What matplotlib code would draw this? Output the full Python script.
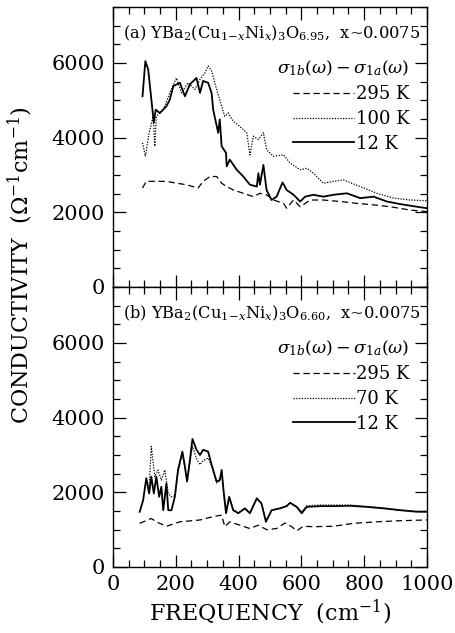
import numpy as np
import matplotlib.pyplot as plt
from matplotlib.ticker import MultipleLocator

plt.rcParams['font.family'] = 'DejaVu Serif'
plt.rcParams['mathtext.fontset'] = 'dejavuserif'

# (a) O6.95 sample: sigma_1b - sigma_1a (1/Ohm cm) vs frequency (cm^-1)
a_12K_w = [94, 103, 112, 130, 136, 149, 170, 181, 192, 213, 229, 245, 266, 277, 287,
           303, 314, 319, 335, 340, 346, 360, 362, 372, 394, 415, 436, 458, 463, 468,
           479, 489, 505, 521, 540, 553, 575, 596, 612, 638, 670, 702, 745, 787, 830,
           872, 915, 968, 1000]
a_12K_s = [5110, 6050, 5830, 4400, 4750, 4660, 4840, 5020, 5380, 5470, 5110, 5430, 5600, 5200, 5520,
           5470, 5200, 4750, 4130, 4490, 3770, 3590, 3230, 3410, 3140, 2960, 2740, 2690, 3050, 2740,
           3270, 2600, 2330, 2420, 2800, 2600, 2470, 2290, 2420, 2470, 2420, 2470, 2510, 2380, 2420,
           2290, 2220, 2150, 2110]

a_100K_w = [94, 103, 115, 128, 133, 138, 160, 181, 202, 218, 239, 261, 277, 293, 303,
            314, 330, 346, 356, 367, 383, 404, 426, 436, 447, 463, 479, 489, 511, 543,
            564, 596, 617, 638, 670, 702, 734, 787, 840, 894, 947, 1000]
a_100K_s = [3860, 3500, 4130, 4570, 3770, 4570, 4750, 5200, 5600, 5200, 5470, 5290, 5560, 5740, 5920,
            5790, 5290, 4840, 4570, 4660, 4440, 4300, 4130, 3540, 4040, 3950, 4130, 3680, 3500, 3540,
            3320, 3140, 3180, 3050, 2780, 2830, 2870, 2690, 2510, 2380, 2330, 2310]

a_295K_w = [94, 106, 138, 170, 202, 234, 271, 287, 309, 330, 346, 362, 383, 415, 447,
            468, 489, 511, 543, 553, 575, 596, 628, 670, 723, 777, 830, 883, 947, 1000]
a_295K_s = [2650, 2830, 2830, 2830, 2780, 2740, 2650, 2830, 2960, 2960, 2780, 2690, 2600, 2510, 2420,
            2510, 2470, 2330, 2240, 2110, 2330, 2150, 2330, 2330, 2290, 2240, 2200, 2150, 2060, 2020]

# (b) O6.60 sample
b_12K_w = [85, 96, 106, 115, 122, 130, 138, 147, 154, 160, 170, 176, 186, 197, 207,
           221, 229, 236, 245, 253, 266, 277, 287, 303, 314, 330, 340, 346, 353, 360,
           370, 383, 399, 420, 436, 458, 473, 487, 505, 532, 553, 564, 585, 601, 617,
           660, 702, 755, 809, 862, 915, 968, 1000]
b_12K_s = [1480, 1790, 2380, 1970, 2420, 1970, 2420, 1880, 2150, 1520, 2240, 1520, 1520, 1880, 2600,
           3090, 2690, 2290, 2870, 3430, 3140, 3000, 3140, 3090, 2740, 2290, 2330, 2600, 1970, 1440,
           1880, 1520, 1440, 1570, 1440, 1840, 1700, 1210, 1520, 1570, 1630, 1720, 1610, 1440, 1610,
           1630, 1630, 1640, 1610, 1570, 1520, 1480, 1480]

b_70K_w = [115, 122, 133, 143, 154, 165, 176, 186, 197, 207, 221, 229, 236, 245, 253,
           266, 277, 287, 303, 314, 330, 340, 346, 353, 360, 370, 383, 399, 420, 436,
           458, 473, 487, 505, 532, 553, 564, 585, 601, 617, 660, 702, 755, 809, 862,
           915, 968, 1000]
b_70K_s = [2100, 3230, 2420, 2600, 2330, 2600, 1970, 1880, 1900, 2550, 3050, 2650, 2300, 2800, 3230,
           2900, 2740, 2850, 2920, 2700, 2250, 2300, 2550, 1950, 1500, 1870, 1540, 1450, 1570, 1460,
           1820, 1710, 1230, 1520, 1580, 1640, 1720, 1620, 1480, 1640, 1660, 1660, 1660, 1620, 1580,
           1530, 1490, 1490]

b_295K_w = [85, 122, 138, 170, 213, 277, 319, 346, 356, 372, 404, 436, 463, 489, 521,
            548, 569, 585, 606, 638, 702, 766, 840, 915, 1000]
b_295K_s = [1170, 1300, 1210, 1090, 1210, 1260, 1350, 1390, 1080, 1210, 1120, 1030, 1120, 1000, 1030,
            1180, 1080, 970, 1090, 1080, 1090, 1170, 1210, 1240, 1260]

panels = [
    (r'(a) YBa$_2$(Cu$_{1\!-\!x}$Ni$_x$)$_3$O$_{6.95}$,  x~0.0075',
     [(a_295K_w, a_295K_s, '295 K'), (a_100K_w, a_100K_s, '100 K'), (a_12K_w, a_12K_s, '12 K')]),
    (r'(b) YBa$_2$(Cu$_{1\!-\!x}$Ni$_x$)$_3$O$_{6.60}$,  x~0.0075',
     [(b_295K_w, b_295K_s, '295 K'), (b_70K_w, b_70K_s, '70 K'), (b_12K_w, b_12K_s, '12 K')]),
]
styles = [dict(ls=(0, (5, 3)), lw=0.9), dict(ls=(0, (1, 1.2)), lw=0.9), dict(ls='-', lw=1.3)]

fig = plt.figure(figsize=(4.56, 6.33), dpi=100)
left, width = 113 / 456, 314 / 456
axes = [fig.add_axes([left, 1 - 287 / 633, width, 280 / 633]),
        fig.add_axes([left, 1 - 567 / 633, width, 280 / 633])]

for ax, (title, curves) in zip(axes, panels):
    for (w, s, lab), st in zip(curves, styles):
        ax.plot(w, s, color='black', label=lab, **st)
    ax.set_xlim(0, 1000)
    ax.set_ylim(0, 7500)
    ax.xaxis.set_major_locator(MultipleLocator(200))
    ax.xaxis.set_minor_locator(MultipleLocator(50))
    ax.yaxis.set_major_locator(MultipleLocator(2000))
    ax.yaxis.set_minor_locator(MultipleLocator(500))
    ax.tick_params(which='both', direction='in', top=True, right=True, labelsize=15, width=0.9)
    ax.tick_params(which='major', length=9, pad=6)
    ax.tick_params(which='minor', length=5)
    for sp in ax.spines.values():
        sp.set_linewidth(1.0)
    ax.text(0.505, 0.905, title, transform=ax.transAxes, ha='center', va='center', fontsize=11.7)
    leg = ax.legend(loc='upper right', bbox_to_anchor=(0.945, 0.815), frameon=False,
                    title=r'$\sigma_{1b}(\omega)-\sigma_{1a}(\omega)$', title_fontsize=12.5,
                    fontsize=13, handlelength=3.4, handletextpad=0.1, labelspacing=0.38,
                    borderaxespad=0, borderpad=0, alignment='right')

axes[0].tick_params(labelbottom=False)
axes[1].set_xlabel(r'FREQUENCY  (cm$^{-1}$)', fontsize=16, labelpad=2)
fig.text(20 / 456, 1 - 265 / 633, r'CONDUCTIVITY  ($\Omega^{-1}$cm$^{-1}$)', rotation=90,
         ha='center', va='center', fontsize=16)

fig.savefig('out.png', dpi=100)
